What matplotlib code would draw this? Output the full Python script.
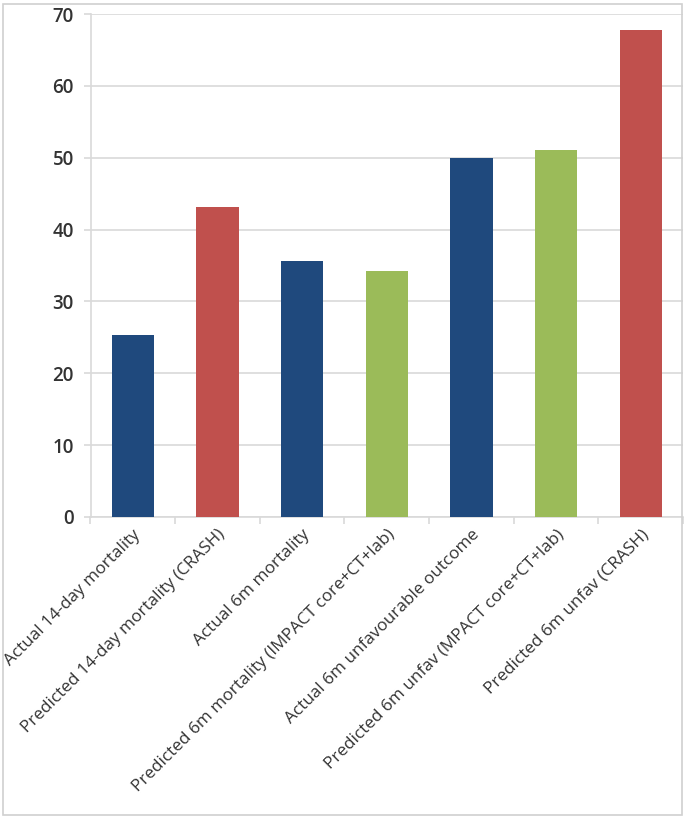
import matplotlib
matplotlib.use("Agg")
import matplotlib.pyplot as plt
from matplotlib.patches import Rectangle
from matplotlib.ticker import FixedLocator, MultipleLocator

categories = [
    "Actual 14-day mortality",
    "Predicted 14-day mortality (CRASH)",
    "Actual 6m mortality",
    "Predicted 6m mortality (IMPACT core+CT+lab)",
    "Actual 6m unfavourable outcome",
    "Predicted 6m unfav (MPACT core+CT+lab)",
    "Predicted 6m unfav (CRASH)",
]
values = [25.3, 43.2, 35.6, 34.2, 50.0, 51.1, 67.8]
bar_colors = ["#1F497D", "#C0504D", "#1F497D", "#9BBB59", "#1F497D", "#9BBB59", "#C0504D"]

W, H = 685, 819
fig = plt.figure(figsize=(W / 100, H / 100), dpi=100)
fig.patches.append(Rectangle((3 / W, 4 / H), 679 / W, 811 / H, transform=fig.transFigure,
                             fill=False, edgecolor="#D0D0D0", linewidth=1.2))

left, right, top, bottom = 90.5, 683, 14, 517
ax = fig.add_axes([left / W, 1 - bottom / H, (right - left) / W, (bottom - top) / H])

x = list(range(len(categories)))
ax.bar(x, values, width=0.5, color=bar_colors, zorder=3)

ax.set_xlim(-0.5, len(categories) - 0.5)
ax.set_ylim(0, 70)
ax.yaxis.set_major_locator(MultipleLocator(10))
ax.grid(axis="y", color="#D9D9D9", linewidth=1.2, zorder=0)

for s in ["top", "right"]:
    ax.spines[s].set_visible(False)
ax.spines["left"].set_color("#D9D9D9")
ax.spines["bottom"].set_color("#D9D9D9")
ax.spines["left"].set_linewidth(1.2)
ax.spines["bottom"].set_linewidth(1.2)

ax.set_xticks(x)
ax.set_xticklabels(categories, rotation=45, ha="right", rotation_mode="anchor",
                   fontsize=12.3, color="#333333", family=["Open Sans", "DejaVu Sans"])
ax.tick_params(axis="x", length=0, pad=7)
ax.xaxis.set_minor_locator(FixedLocator([i - 0.5 for i in range(len(categories) + 1)]))
ax.tick_params(axis="x", which="minor", length=5, color="#D9D9D9", width=1.2)
ax.tick_params(axis="y", length=5, color="#D9D9D9", width=1.2, pad=7,
               labelsize=13.5, labelcolor="#333333")
for lab in ax.get_yticklabels():
    lab.set_family(["Open Sans", "DejaVu Sans"])
    lab.set_fontweight("semibold")

fig.savefig("out.png", dpi=100)
